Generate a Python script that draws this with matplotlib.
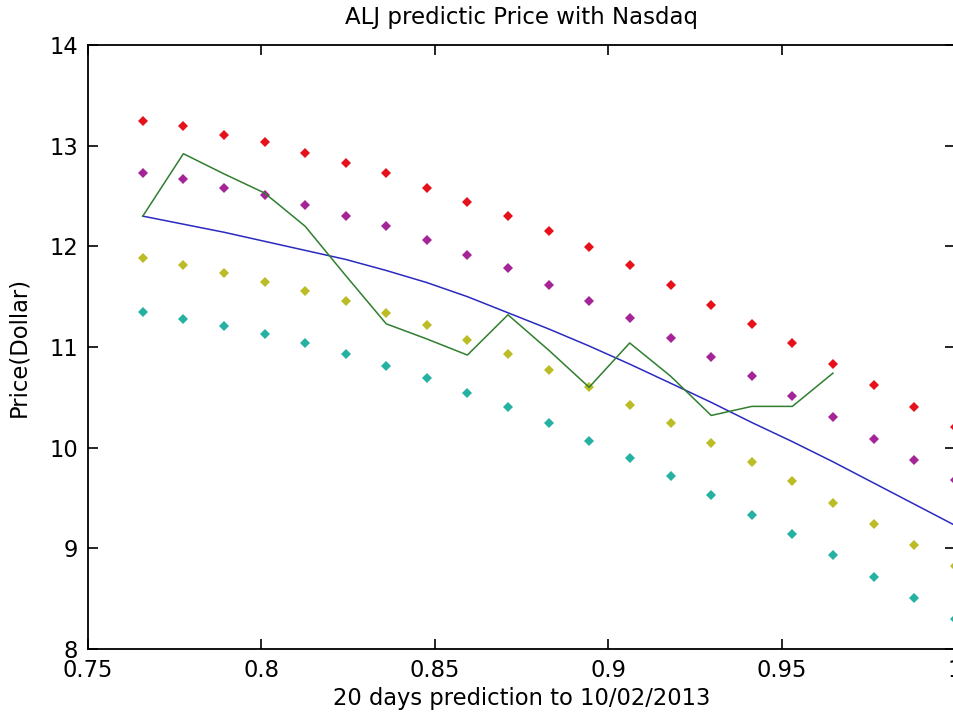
import numpy as np
import matplotlib
matplotlib.use("Agg")
import matplotlib.pyplot as plt

# x positions of the 21 prediction days
days_x = [0.7658, 0.7775, 0.7892, 0.8009, 0.8126, 0.8243, 0.8360, 0.8477, 0.8594,
          0.8711, 0.8828, 0.8945, 0.9062, 0.9180, 0.9297, 0.9414, 0.9531, 0.9648,
          0.9765, 0.9882, 0.9999]

# four prediction bands (dots)
band_red = [13.25, 13.20, 13.11, 13.04, 12.93, 12.83, 12.73, 12.58, 12.44, 12.30, 12.15,
            11.99, 11.81, 11.62, 11.42, 11.23, 11.04, 10.83, 10.62, 10.40, 10.21]
band_magenta = [12.73, 12.67, 12.58, 12.51, 12.41, 12.30, 12.20, 12.06, 11.91, 11.78, 11.62,
                11.46, 11.29, 11.09, 10.90, 10.71, 10.51, 10.30, 10.09, 9.88, 9.68]
band_yellow = [11.88, 11.81, 11.74, 11.65, 11.56, 11.46, 11.34, 11.22, 11.07, 10.93, 10.77,
               10.60, 10.42, 10.25, 10.05, 9.86, 9.67, 9.45, 9.24, 9.03, 8.82]
band_cyan = [11.35, 11.28, 11.21, 11.13, 11.04, 10.93, 10.81, 10.69, 10.54, 10.40, 10.25,
             10.07, 9.90, 9.72, 9.53, 9.33, 9.14, 8.93, 8.72, 8.51, 8.30]

# fitted trend (blue) and actual price (green, 18 days)
trend = [12.30, 12.22, 12.14, 12.05, 11.96, 11.87, 11.76, 11.64, 11.50, 11.34, 11.18,
         11.01, 10.83, 10.64, 10.45, 10.25, 10.06, 9.86, 9.65, 9.44, 9.23]
actual = [12.30, 12.92, 12.72, 12.53, 12.20, 11.71, 11.23, 11.08, 10.92, 11.32, 10.97,
          10.60, 11.04, 10.71, 10.32, 10.41, 10.41, 10.74]

plt.rcParams['font.family'] = ['DejaVu Sans']

fig = plt.figure(figsize=(9.54, 7.15), dpi=100)
# right edge of the box sits on the image border, like the original
ax = fig.add_axes([88 / 954, 66 / 715, 867 / 954, 604 / 715])

ms = 5.2
ax.plot(days_x, band_red, 'D', color='#e5121c', markersize=ms, markeredgewidth=0, clip_on=False)
ax.plot(days_x, band_magenta, 'D', color='#a52497', markersize=ms, markeredgewidth=0, clip_on=False)
ax.plot(days_x, band_yellow, 'D', color='#bcbc26', markersize=ms, markeredgewidth=0, clip_on=False)
ax.plot(days_x, band_cyan, 'D', color='#26b2a2', markersize=ms, markeredgewidth=0, clip_on=False)
ax.plot(days_x, trend, color='#2a2ac0', linewidth=1.1)
ax.plot(days_x[:len(actual)], actual, color='#2f7f2f', linewidth=1.1)

ax.set_xlim(0.75, 1.0)
ax.set_ylim(8, 14)
ax.set_xticks([0.75, 0.8, 0.85, 0.9, 0.95, 1.0])
ax.set_xticklabels(['0.75', '0.8', '0.85', '0.9', '0.95', '1'])
ax.set_yticks(range(8, 15))

ax.tick_params(direction='in', top=True, right=True, length=7, width=1.2,
               labelsize=16.3)
ax.tick_params(axis='x', pad=7)
ax.tick_params(axis='y', pad=7)
for s in ax.spines.values():
    s.set_linewidth(1.3)

ax.set_title('ALJ predictic Price with Nasdaq', fontsize=16.5, pad=15)
ax.set_xlabel('20 days prediction to 10/02/2013', fontsize=16.3, labelpad=4)
ax.set_ylabel('Price(Dollar)', fontsize=16.3, labelpad=14)

fig.savefig('out.png', dpi=100)
